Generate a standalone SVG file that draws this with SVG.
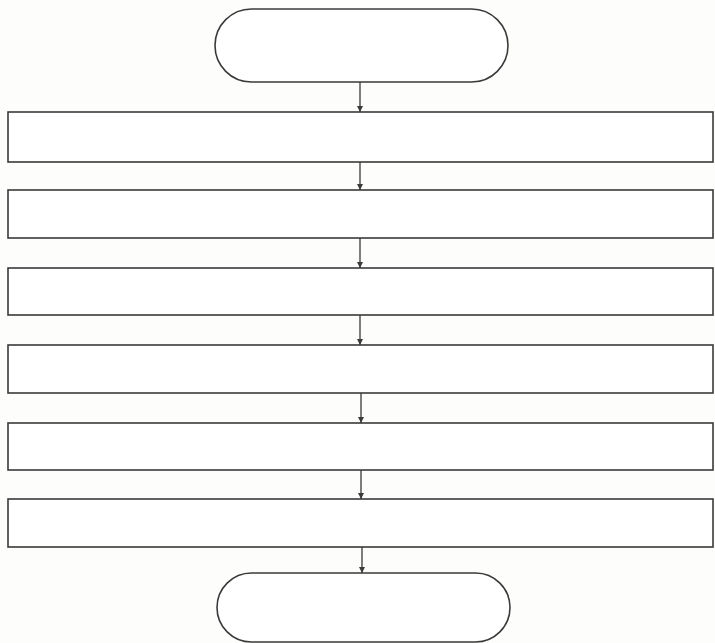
<svg xmlns="http://www.w3.org/2000/svg" width="715" height="643" viewBox="0 0 715 643">
<defs>
<style>
.n{fill:#fff;stroke:#3a3a3a;stroke-width:1.6}
.c{stroke:#3a3a3a;stroke-width:1.3;fill:none}
</style>
<marker id="ah" viewBox="0 0 10 10" refX="10" refY="5" markerWidth="6" markerHeight="10" markerUnits="userSpaceOnUse" orient="auto">
<path d="M0,0 L10,5 L0,10 z" fill="#3a3a3a"/>
</marker>
</defs>
<rect width="715" height="643" fill="#fdfdfb"/>
<g id="start"><rect class="n" x="215" y="9" width="293" height="73" rx="36.5"/></g>
<g id="step1"><rect class="n" x="8" y="112" width="705" height="50"/></g>
<g id="step2"><rect class="n" x="8" y="190" width="705" height="48"/></g>
<g id="step3"><rect class="n" x="8" y="268" width="705" height="47"/></g>
<g id="step4"><rect class="n" x="8" y="345" width="705" height="48"/></g>
<g id="step5"><rect class="n" x="8" y="423" width="705" height="47"/></g>
<g id="step6"><rect class="n" x="8" y="499" width="705" height="48"/></g>
<g id="end"><rect class="n" x="217" y="573" width="293" height="69" rx="34.5"/></g>
<g id="connectors">
<line class="c" x1="360" y1="82" x2="360" y2="112" marker-end="url(#ah)"/>
<line class="c" x1="360" y1="162" x2="360" y2="190" marker-end="url(#ah)"/>
<line class="c" x1="360" y1="238" x2="360" y2="268" marker-end="url(#ah)"/>
<line class="c" x1="360" y1="315" x2="360" y2="345" marker-end="url(#ah)"/>
<line class="c" x1="361" y1="393" x2="361" y2="423" marker-end="url(#ah)"/>
<line class="c" x1="361" y1="470" x2="361" y2="499" marker-end="url(#ah)"/>
<line class="c" x1="362" y1="547" x2="362" y2="573" marker-end="url(#ah)"/>
</g>
</svg>
